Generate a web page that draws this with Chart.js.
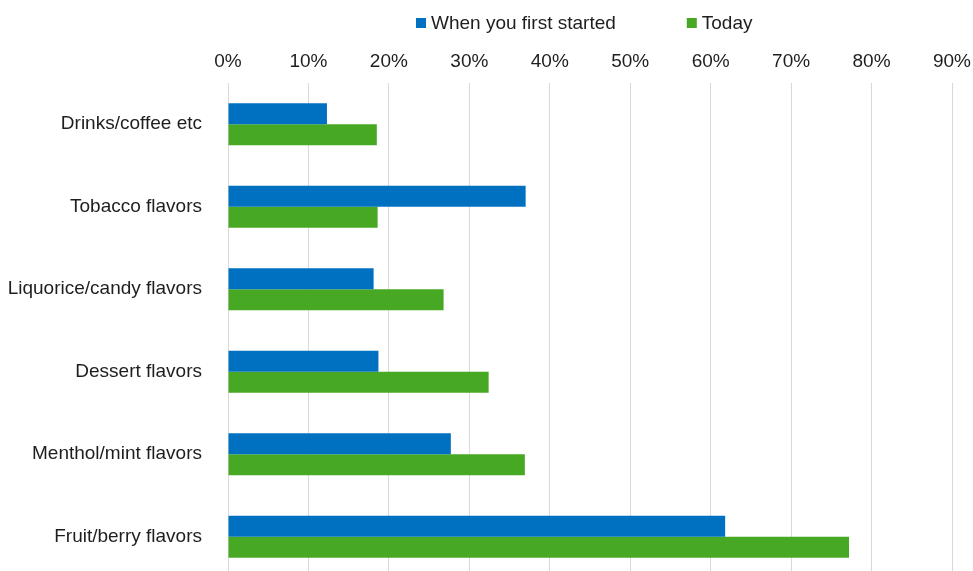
<!DOCTYPE html>
<html>
<head>
<meta charset="utf-8">
<script src="https://cdn.jsdelivr.net/npm/chart.js@4.4.1/dist/chart.umd.min.js"></script>
<style>
    html, body { margin: 0; padding: 0; background: #fff; overflow: hidden; width: 973px; height: 571px; }
    canvas { display: block; }
</style>
</head>
<body>
<canvas id="chart" width="973" height="578"></canvas>
<script>
// Flavor preferences, percent of respondents
const categories = [
    'Drinks/coffee etc',
    'Tobacco flavors',
    'Liquorice/candy flavors',
    'Dessert flavors',
    'Menthol/mint flavors',
    'Fruit/berry flavors'
];
const seriesNames = ['When you first started', 'Today'];
const firstStarted = [12.3, 37.0, 18.1, 18.7, 27.7, 61.8];
const today = [18.5, 18.6, 26.8, 32.4, 36.9, 77.2];
const tickValues = [0, 10, 20, 30, 40, 50, 60, 70, 80, 90];

const FONT = '"Liberation Sans", Arial, Helvetica, sans-serif';
const TEXT = '#1e1e1e';
const BLUE = '#0070C0';
const GREEN = '#47A823';

// Legend drawn above the axis labels: small square + label, wide gap between items
const topLegend = {
    id: 'topLegend',
    afterDraw(chart) {
        const ctx = chart.ctx;
        const area = chart.chartArea;
        const box = 10, gap = 5, itemGap = 71, y = 23;
        ctx.save();
        ctx.font = '19px ' + FONT;
        ctx.textBaseline = 'middle';
        const items = chart.data.datasets.map(ds => ({
            label: ds.label,
            color: ds.backgroundColor,
            w: box + gap + ctx.measureText(ds.label).width
        }));
        const total = items.reduce((s, it) => s + it.w, 0) + itemGap * (items.length - 1);
        let x = Math.round((area.left + area.right) / 2 - total / 2 - 6);
        items.forEach(it => {
            ctx.fillStyle = it.color;
            ctx.fillRect(x, y - box / 2, box, box);
            ctx.fillStyle = TEXT;
            ctx.fillText(it.label, x + box + gap, y + 1);
            x += it.w + itemGap;
        });
        ctx.restore();
    }
};

new Chart(document.getElementById('chart'), {
    type: 'bar',
    data: {
        labels: categories,
        datasets: [
            { label: seriesNames[0], data: firstStarted, backgroundColor: BLUE },
            { label: seriesNames[1], data: today, backgroundColor: GREEN }
        ]
    },
    options: {
        indexAxis: 'y',
        responsive: false,
        animation: false,
        categoryPercentage: 0.51,
        barPercentage: 1.0,
        layout: { padding: { top: 46, right: 21, left: 0, bottom: 0 } },
        plugins: {
            legend: { display: false },
            tooltip: { enabled: false }
        },
        scales: {
            x: {
                position: 'top',
                min: tickValues[0],
                max: tickValues[tickValues.length - 1],
                afterBuildTicks: scale => {
                    scale.ticks = tickValues.map(v => ({ value: v }));
                },
                afterFit: scale => {
                    scale.height = 37;
                    // let the layout padding decide the right edge
                    scale.paddingLeft = 0;
                    scale.paddingRight = 0;
                },
                grid: { color: '#d9d9d9', lineWidth: 1, drawTicks: false },
                border: { display: false },
                ticks: {
                    padding: 10,
                    color: TEXT,
                    font: { family: FONT, size: 19 },
                    callback: v => v + '%'
                }
            },
            y: {
                afterFit: scale => {
                    scale.width = 228;
                    scale.paddingTop = 0;
                    scale.paddingBottom = 0;
                },
                grid: { display: false },
                border: { display: false },
                ticks: {
                    padding: 18,
                    color: TEXT,
                    font: { family: FONT, size: 19 }
                }
            }
        }
    },
    plugins: [topLegend]
});
</script>
</body>
</html>
